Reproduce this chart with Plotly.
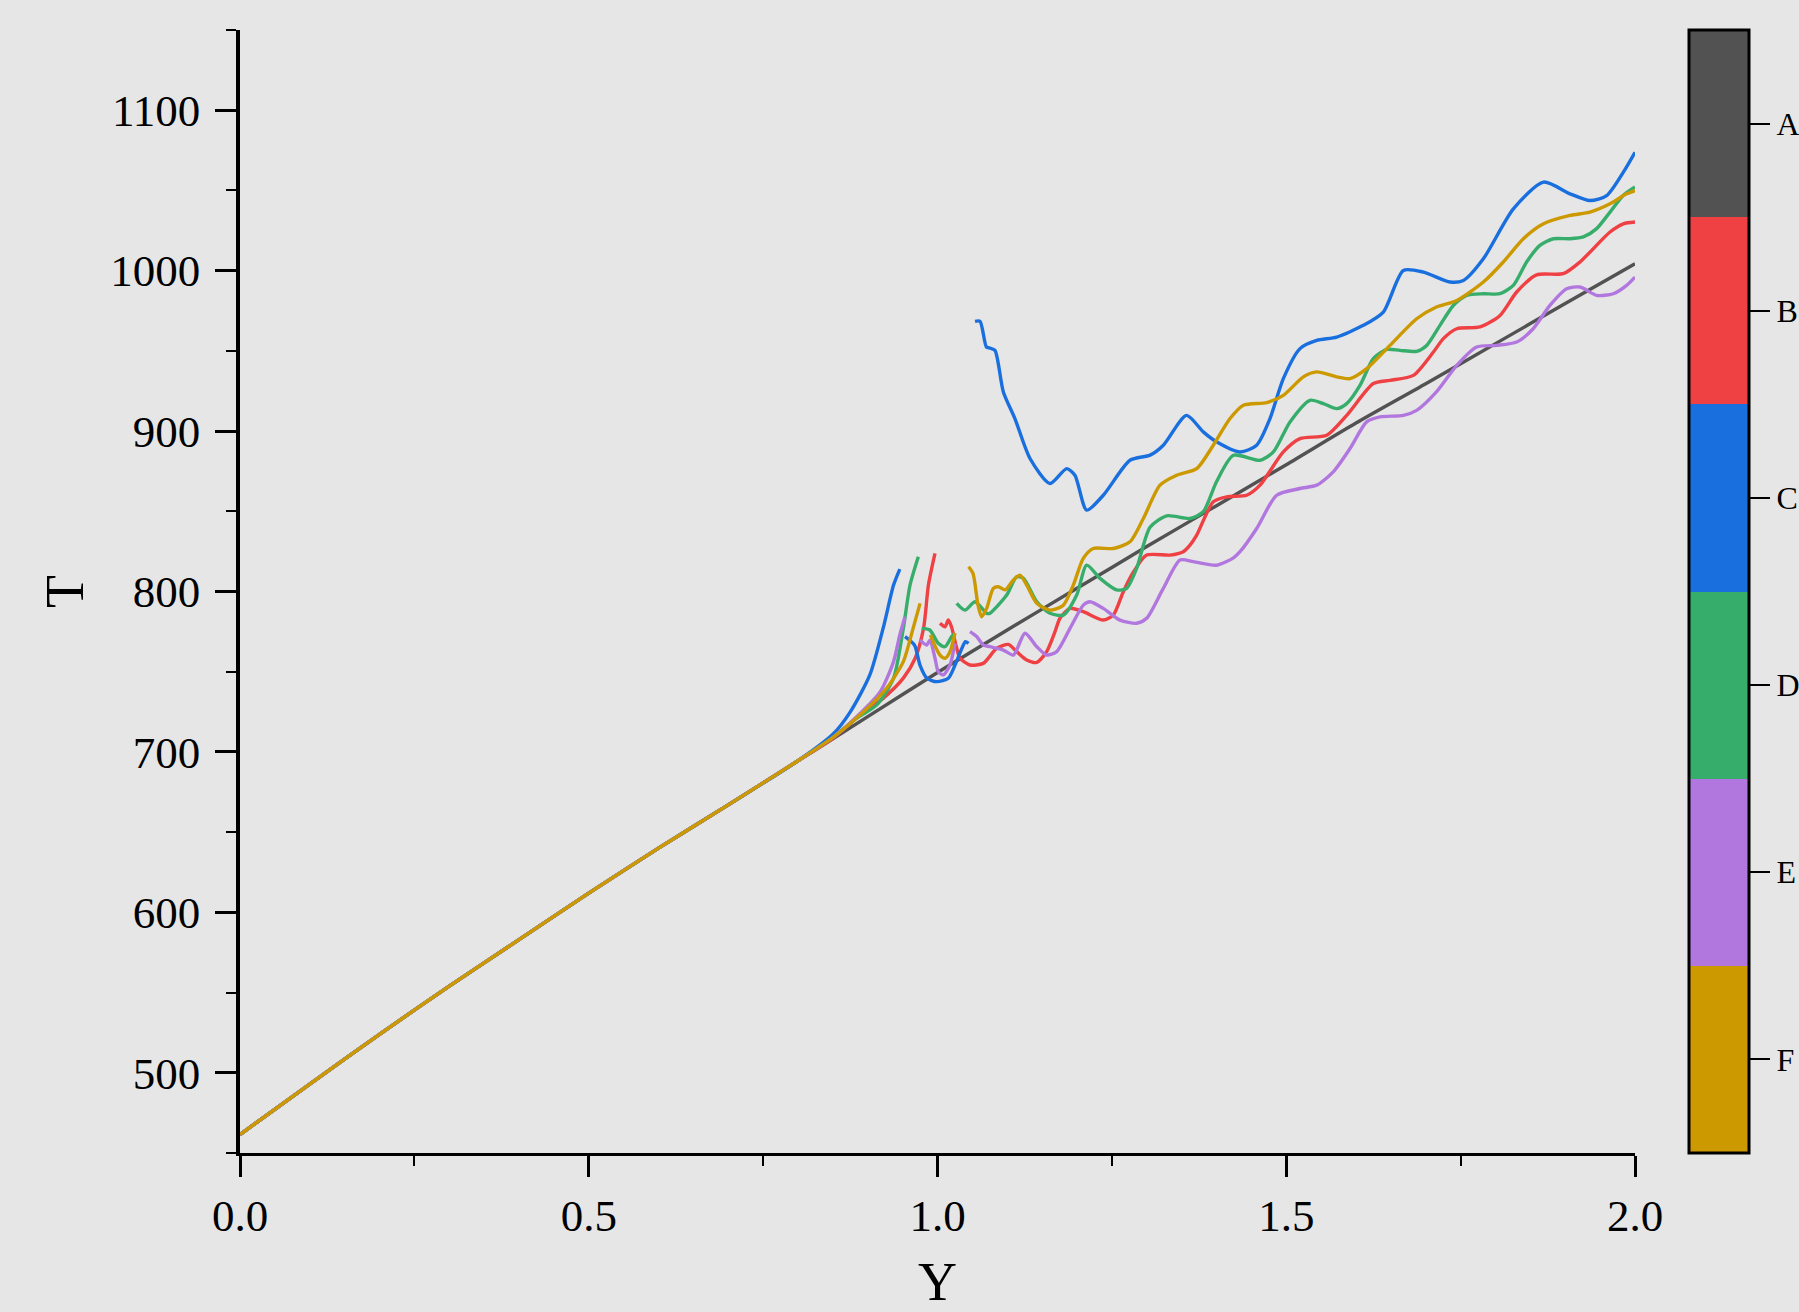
import plotly.graph_objects as go

# ---------------- data ----------------
series_names = ["A", "B", "C", "D", "E", "F"]
series_colors = ["#525252", "#EF4043", "#1A6FDF", "#37AD6B", "#B177DE", "#CC9900"]

# A: full reference line
A_Y = [0.0, 0.1, 0.2, 0.3, 0.4, 0.5, 0.6, 0.7, 0.8, 0.9, 1.0, 1.1, 1.2, 1.3, 1.4, 1.5, 1.6, 1.7, 1.8, 1.9, 2.0]
A_T = [461.5, 493, 524, 554, 583, 612, 640, 667, 694.5, 722, 749.5, 776, 802, 828, 853.5, 879, 905, 929.5, 954.5, 979.5, 1004.3]

# shared initial section (all series follow the same line up to Y≈0.8)
base_Y = [0.0, 0.1, 0.2, 0.3, 0.4, 0.5, 0.6, 0.7, 0.8]
base_T = [461.5, 493, 524, 554, 583, 612, 640, 667, 694.5]

# B (red)
B_Y1 = [0.85, 0.889, 0.922, 0.951, 0.968, 0.98, 0.987, 0.9964]
B_T1 = [708.5, 723, 733.4, 746, 758.4, 777, 804, 823.7]
B_Y2 = [1.0036, 1.0108, 1.0155, 1.02, 1.0265, 1.0323, 1.0466, 1.0657, 1.0849, 1.1016, 1.1135, 1.1279,
        1.1424, 1.1565, 1.1685, 1.1756, 1.19, 1.209, 1.2377, 1.2521, 1.2664, 1.2807, 1.2998, 1.3333,
        1.3524, 1.362, 1.3716, 1.3954, 1.4146, 1.4433, 1.4624, 1.4958, 1.5197, 1.558, 1.5867, 1.6249,
        1.6487, 1.6822, 1.711, 1.7252, 1.7445, 1.7778, 1.8065, 1.8304, 1.859, 1.8972, 1.9211, 1.9642,
        1.9833, 2.0]
B_T2 = [780.2, 778, 782.2, 778, 766.6, 758.4, 754.2, 755.2, 764.6, 767, 762.5, 757.3,
        755.8, 762.5, 775, 783.3, 789.5, 787.4, 782.2, 785.3, 799.9, 812, 822.7, 822.7,
        824.8, 828.9, 835.1, 855.9, 859, 860, 866.3, 887, 895.3, 897.4, 909.8, 929.6,
        931.6, 934.7, 949.3, 957.6, 963.8, 964.9, 972.1, 986.7, 997.4, 998.1, 1005.4, 1024.1,
        1029.2, 1030.3]

# C (blue)
C_Y1 = [0.85, 0.875, 0.903, 0.922, 0.937, 0.946]
C_T1 = [711, 725, 748, 777, 804, 814]
C_Y2 = [0.9534, 0.967, 0.975, 0.985, 0.9988, 1.0155, 1.025, 1.035, 1.04, 1.0445]
C_T2 = [771.9, 766.6, 754, 745.9, 743.8, 745.9, 754, 764.6, 768.7, 767.7]
C_Y3 = [1.0538, 1.061, 1.0701, 1.0749, 1.0824, 1.0944, 1.111, 1.1326, 1.1613, 1.1852, 1.197, 1.2139,
        1.2377, 1.276, 1.3047, 1.3238, 1.357, 1.381, 1.40, 1.4337, 1.4576, 1.4767, 1.4958, 1.5197,
        1.5437, 1.5724, 1.6105, 1.6392, 1.6679, 1.6966, 1.7348, 1.754, 1.7826, 1.8256, 1.8688, 1.9068,
        1.9355, 1.9594, 1.9833, 2.0]
C_T3 = [968.4, 968.4, 952.4, 951.8, 950.3, 924.4, 907.8, 882.9, 867.3, 876.6, 872.5, 850.7,
        860, 881.8, 885, 891.2, 909.8, 899.5, 893.3, 887, 891.2, 907.8, 932.7, 951.4,
        956.5, 958.6, 965.9, 974.2, 1000.1, 999.1, 992.9, 993.9, 1007.4, 1038.5, 1055.2, 1047.9,
        1043.7, 1046.8, 1061.4, 1073.8]

# D (green)
D_Y1 = [0.85, 0.884, 0.913, 0.937, 0.951, 0.9606, 0.9725]
D_T1 = [709, 721, 729.3, 746, 777, 804, 821.7]
D_Y2 = [0.9773, 0.989, 1.0011, 1.0108, 1.0203, 1.0251]
D_T2 = [777, 776, 767.7, 765.6, 771.9, 774]
D_Y3 = [1.0275, 1.0394, 1.0538, 1.0705, 1.075, 1.0992, 1.1135, 1.1233, 1.1424, 1.1613, 1.1804, 1.1996,
        1.2139, 1.233, 1.2569, 1.2712, 1.2855, 1.3047, 1.3286, 1.362, 1.381, 1.40, 1.4243, 1.4624,
        1.4815, 1.5054, 1.534, 1.5531, 1.5723, 1.5866, 1.6057, 1.6248, 1.6439, 1.6631, 1.687, 1.7013,
        1.7204, 1.7395, 1.7586, 1.7825, 1.8064, 1.8255, 1.8446, 1.8637, 1.8829, 1.9068, 1.9259, 1.945,
        1.9642, 1.9833, 2.0]
D_T3 = [792.6, 788.4, 793.6, 786.4, 786.4, 797.8, 809.2, 808.2, 793.6, 786.4, 785.3, 797.8,
        816.4, 808.2, 801, 802, 814.4, 840, 847.2, 845.5, 849.7, 868.4, 884.9, 881.8,
        887, 905.7, 919.2, 917.1, 914, 917.1, 928.5, 945.1, 950.9, 950.3, 949.7, 953.4,
        965.9, 978.3, 984.6, 985.6, 985.6, 990.8, 1005.4, 1015.8, 1019.9, 1019.9, 1021, 1026.2,
        1036.5, 1047, 1052.2]

# E (purple)
E_Y1 = [0.85, 0.889, 0.918, 0.937, 0.946, 0.9534]
E_T1 = [709, 724, 737.6, 756.3, 773, 784.3]
E_Y2 = [0.9749, 0.9845, 0.9892, 0.9964, 1.0011, 1.0083, 1.0179, 1.0227, 1.0251]
E_T2 = [769.7, 766.6, 769.7, 758.4, 750, 748, 754.2, 762.5, 767.7]
E_Y3 = [1.0466, 1.0562, 1.0657, 1.0753, 1.0944, 1.1088, 1.1254, 1.1424, 1.1565, 1.1709, 1.19, 1.209,
        1.2186, 1.2377, 1.2616, 1.2855, 1.2998, 1.3237, 1.3477, 1.3668, 1.40, 1.4243, 1.4337, 1.4576,
        1.4863, 1.5197, 1.5437, 1.5674, 1.5914, 1.6153, 1.6344, 1.6679, 1.687, 1.7153, 1.7445, 1.773,
        1.8017, 1.8304, 1.854, 1.878, 1.902, 1.9211, 1.945, 1.9689, 1.988, 2.0]
E_T3 = [775, 771.9, 766.6, 765.6, 763.5, 760.4, 774, 765.6, 760.4, 762.5, 777, 791.5,
        793.6, 789.5, 782.2, 780.2, 783.3, 801.9, 819.6, 818.6, 816.4, 821, 824.8, 839.3,
        860, 864.2, 866.3, 874.6, 889.1, 905.7, 908.8, 909.8, 912.9, 924.4, 941, 952.4,
        953.4, 955.5, 963.8, 978.3, 988.7, 989.8, 984.6, 985.6, 990.8, 996]

# F (gold)
F_Y1 = [0.85, 0.894, 0.927, 0.951, 0.965, 0.975]
F_T1 = [709, 725, 739.7, 756.3, 777, 792.6]
F_Y2 = [0.99, 0.9937, 1.0036, 1.0108, 1.0179, 1.0251]
F_T2 = [773, 768.7, 760.4, 758.4, 762.5, 774]
F_Y3 = [1.0445, 1.0509, 1.0581, 1.0633, 1.0705, 1.0799, 1.0872, 1.0968, 1.1087, 1.1183, 1.1279, 1.1424,
        1.1613, 1.1804, 1.1947, 1.209, 1.2233, 1.2521, 1.276, 1.2951, 1.319, 1.3429, 1.3716, 1.3954,
        1.4194, 1.4385, 1.472, 1.4958, 1.5245, 1.5437, 1.5724, 1.5914, 1.6153, 1.6487, 1.687, 1.7153,
        1.7445, 1.7826, 1.8112, 1.84, 1.8688, 1.9068, 1.9355, 1.9642, 1.988, 2.0]
F_T3 = [815.4, 811.3, 791.5, 784.3, 789.5, 801.9, 803, 801, 807.1, 810.2, 804, 792.6,
        788.4, 791.5, 804, 820.6, 826.8, 826.8, 831, 845.5, 866.3, 872.5, 876.6, 891.2,
        907.8, 916.1, 917.8, 922.3, 933.8, 936.9, 933.8, 932.7, 938.9, 953.4, 970, 977.3,
        981.4, 992.9, 1005.4, 1019.9, 1029.2, 1034.4, 1036.5, 1041.7, 1047.9, 1049.9]

x_ticks = [0.0, 0.5, 1.0, 1.5, 2.0]
x_ticktext = ["0.0", "0.5", "1.0", "1.5", "2.0"]
y_ticks = [500, 600, 700, 800, 900, 1000, 1100]

# ---------------- build series ----------------
def join(*segments):
    xs, ys = [], []
    for i, (sx, sy) in enumerate(segments):
        if i > 0:
            xs.append(None)
            ys.append(None)
        xs.extend(sx)
        ys.extend(sy)
    return xs, ys

series = {
    "A": (A_Y, A_T),
    "B": join((base_Y + B_Y1, base_T + B_T1), (B_Y2, B_T2)),
    "C": join((base_Y + C_Y1, base_T + C_T1), (C_Y2, C_T2), (C_Y3, C_T3)),
    "D": join((base_Y + D_Y1, base_T + D_T1), (D_Y2, D_T2), (D_Y3, D_T3)),
    "E": join((base_Y + E_Y1, base_T + E_T1), (E_Y2, E_T2), (E_Y3, E_T3)),
    "F": join((base_Y + F_Y1, base_T + F_T1), (F_Y2, F_T2), (F_Y3, F_T3)),
}

FONT = "Liberation Serif"
fig = go.Figure()
for name, color in zip(series_names, series_colors):
    xs, ys = series[name]
    fig.add_trace(go.Scatter(x=xs, y=ys, mode="lines", name=name,
                             line=dict(color=color, width=3.4, shape="spline", smoothing=0.7),
                             connectgaps=False, showlegend=False))

# discrete colour bar as legend (bottom F ... top A)
n = len(series_names)
order_bottom_up = list(reversed(series_names))
colors_bottom_up = list(reversed(series_colors))
cscale = []
for i, c in enumerate(colors_bottom_up):
    cscale.append([i / n, c])
    cscale.append([(i + 1) / n, c])
fig.add_trace(go.Scatter(
    x=[None], y=[None], mode="markers", showlegend=False, hoverinfo="skip",
    marker=dict(color=[0], cmin=0, cmax=n, colorscale=cscale, showscale=True,
                colorbar=dict(
                    x=1.0387, xanchor="left", xref="paper",
                    y=0.5, yanchor="middle", len=1.0, lenmode="fraction",
                    thickness=60, thicknessmode="pixels",
                    outlinecolor="black", outlinewidth=3,
                    tickmode="array",
                    tickvals=[i + 0.5 for i in range(n)],
                    ticktext=order_bottom_up,
                    ticks="outside", ticklen=20, tickwidth=2, tickcolor="black",
                    tickfont=dict(family=FONT, size=32, color="black"),
                    xpad=0, ypad=0,
                ))))

fig.update_layout(
    width=1799, height=1312,
    paper_bgcolor="#E6E6E6", plot_bgcolor="#E6E6E6",
    margin=dict(l=240, r=164, t=30, b=159, autoexpand=False),
    font=dict(family=FONT, color="black"),
    showlegend=False,
)
fig.update_xaxes(
    range=[0, 2], tickmode="array", tickvals=x_ticks, ticktext=x_ticktext,
    showgrid=False, zeroline=False,
    showline=True, linecolor="black", linewidth=3,
    ticks="outside", ticklen=21, tickwidth=2.5, tickcolor="black",
    minor=dict(dtick=0.25, ticks="outside", ticklen=10, tickwidth=2, tickcolor="black"),
    tickfont=dict(family=FONT, size=45, color="black"),
    title=dict(text="Y", font=dict(family=FONT, size=54, color="black"), standoff=32),
)
fig.update_yaxes(
    range=[450, 1150], tickmode="array", tickvals=y_ticks,
    showgrid=False, zeroline=False,
    showline=True, linecolor="black", linewidth=3.5,
    ticks="outside", ticklen=21, tickwidth=2.5, tickcolor="black",
    ticklabelstandoff=6,
    minor=dict(dtick=50, tick0=0, ticks="outside", ticklen=10, tickwidth=2, tickcolor="black"),
    tickfont=dict(family=FONT, size=45, color="black"),
    title=dict(text="T", font=dict(family=FONT, size=54, color="black"), standoff=10),
)

fig.write_html("out.html", config={"displayModeBar": False},
               post_script="document.body.style.margin='0';document.body.style.background='#E6E6E6';")
